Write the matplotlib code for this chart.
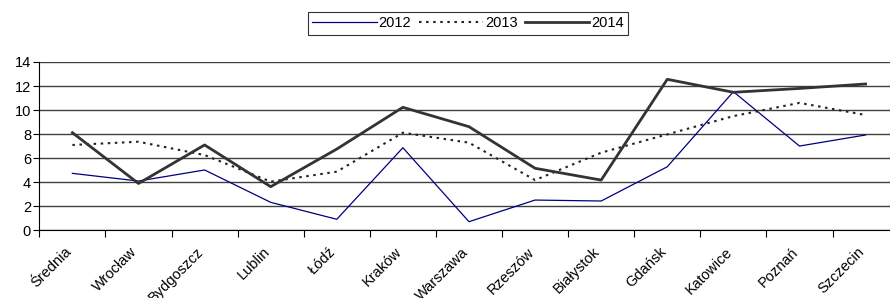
import numpy as np
import matplotlib.pyplot as plt

plt.rcParams["font.family"] = ["Liberation Sans", "DejaVu Sans"]

# Data
cities = ["Średnia", "Wrocław", "Bydgoszcz", "Lublin", "Łódź", "Kraków", "Warszawa",
          "Rzeszów", "Białystok", "Gdańsk", "Katowice", "Poznań", "Szczecin"]
v2012 = [4.74, 4.10, 5.02, 2.33, 0.92, 6.87, 0.72, 2.52, 2.44, 5.29, 11.53, 7.01, 7.93]
v2013 = [7.10, 7.37, 6.26, 4.05, 4.88, 8.12, 7.29, 4.18, 6.46, 7.98, 9.50, 10.60, 9.59]
v2014 = [8.12, 3.90, 7.10, 3.63, 6.76, 10.23, 8.62, 5.16, 4.18, 12.56, 11.48, 11.80, 12.17]

fig = plt.figure(figsize=(8.9, 2.98), dpi=100)
ax = fig.add_axes([0.0442, 0.227, 0.9655, 0.565])

x = np.arange(len(cities))
l1, = ax.plot(x, v2012, color="#000080", lw=0.9, label="2012")
l2, = ax.plot(x, v2013, color="#222222", lw=1.5, ls=(0, (1.2, 2.2)), label="2013")
l3, = ax.plot(x, v2014, color="#333333", lw=2.0, label="2014")

ax.set_xlim(-0.5, len(cities) - 0.5)
ax.set_ylim(0, 14)
ax.set_yticks(range(0, 15, 2))
ax.yaxis.grid(True, color="#404040", lw=1)
ax.set_axisbelow(True)

# ticks between categories, labels at category centers
ax.set_xticks(np.arange(-0.5, len(cities), 1))
ax.set_xticklabels([])
ax.set_xticks(x - 0.05, minor=True)
ax.set_xticklabels(cities, minor=True, rotation=45, ha="right", va="center",
                   rotation_mode="anchor", fontsize=10.5)
ax.tick_params(axis="x", which="minor", length=0, pad=14)
ax.tick_params(axis="x", which="major", length=5, direction="out", color="black")
ax.tick_params(axis="y", length=4, direction="out", labelsize=10.5, pad=2)

for s in ["top", "right"]:
    ax.spines[s].set_visible(False)
ax.spines["left"].set_color("black")
ax.spines["bottom"].set_color("black")

leg = fig.legend(handles=[l1, l2, l3], loc="center", bbox_to_anchor=(0.526, 0.922),
                 ncol=3, fontsize=10.5, frameon=True, fancybox=False, edgecolor="black",
                 handlelength=4.4, columnspacing=0.5, handletextpad=0.15,
                 borderpad=0.3, borderaxespad=0)
leg.get_frame().set_linewidth(0.8)

fig.savefig("out.png", dpi=100)
